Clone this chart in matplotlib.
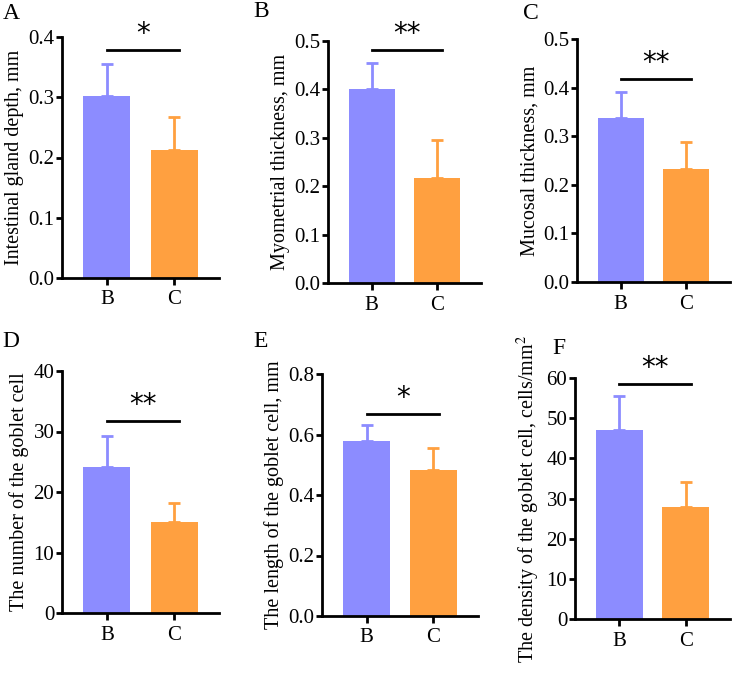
import matplotlib.pyplot as plt

plt.rcParams['font.family'] = ['Liberation Serif', 'DejaVu Serif']
plt.rcParams['mathtext.fontset'] = 'stix'

groups = ['B', 'C']
colors = ['#8c8cff', '#ffa040']

# panel data: means and upper error (SD)
gland_mean = [0.302, 0.212]
gland_err = [0.053, 0.056]
myo_mean = [0.401, 0.217]
myo_err = [0.053, 0.079]
muc_mean = [0.337, 0.233]
muc_err = [0.054, 0.056]
num_mean = [24.1, 15.1]
num_err = [5.1, 3.0]
len_mean = [0.580, 0.481]
len_err = [0.050, 0.075]
dens_mean = [47.1, 28.0]
dens_err = [8.5, 6.0]

panels = [
    ('A', gland_mean, gland_err, 'Intestinal gland depth, mm', 0.4, 0.1, '{:.1f}', 0.378, '*'),
    ('B', myo_mean, myo_err, 'Myometrial thickness, mm', 0.5, 0.1, '{:.1f}', 0.481, '**'),
    ('C', muc_mean, muc_err, 'Mucosal thickness, mm', 0.5, 0.1, '{:.1f}', 0.418, '**'),
    ('D', num_mean, num_err, 'The number of the goblet cell', 40, 10, '{:.0f}', 31.7, '**'),
    ('E', len_mean, len_err, 'The length of the goblet cell, mm', 0.8, 0.2, '{:.1f}', 0.667, '*'),
    ('F', dens_mean, dens_err, 'The density of the goblet cell, cells/mm$^2$', 60, 10, '{:.0f}', 58.4, '**'),
]

# axes boxes in pixels: left, top, right, bottom
boxes = [
    (62, 37, 219, 278), (328, 41, 481, 283), (577, 39, 730, 282),
    (62, 371, 219, 613), (322, 374, 478, 616), (575, 378, 730, 619),
]
# panel letters: left, top in pixels
letter_pos = [(3, 3), (253, 1), (523, 3), (2, 331), (253, 331), (552, 338)]

W, H = 733, 679
fig = plt.figure(figsize=(W / 100, H / 100), dpi=100)

for (letter, mean, err, ylabel, ymax, step, fmt, sig_y, stars), box, lp in zip(panels, boxes, letter_pos):
    l, t, r, b = box
    ax = fig.add_axes([l / W, 1 - b / H, (r - l) / W, (b - t) / H])
    x = range(len(groups))
    ax.bar(x, mean, width=0.7, color=colors, edgecolor='none', zorder=2)
    for xi, m, e, c in zip(x, mean, err, colors):
        ax.errorbar(xi, m, yerr=[[0], [e]], color=c, elinewidth=2, capsize=4.5, capthick=2, zorder=1)
    ax.set_xlim(-0.67, 1.67)
    ax.set_ylim(0, ymax)
    ticks = [i * step for i in range(int(round(ymax / step)) + 1)]
    ax.set_yticks(ticks)
    ax.set_yticklabels([fmt.format(v) for v in ticks])
    ax.set_xticks(list(x))
    ax.set_xticklabels(groups)
    for s in ['top', 'right']:
        ax.spines[s].set_visible(False)
    for s in ['left', 'bottom']:
        ax.spines[s].set_linewidth(2)
    ax.tick_params(width=2, length=4, labelsize=15, pad=1.5)
    ax.tick_params(axis='x', length=5, pad=4)
    ax.set_ylabel(ylabel, fontsize=14.5, labelpad=3)
    ax.plot([0, 1.08], [sig_y, sig_y], color='black', lw=2, clip_on=False)
    ax.text(0.54, sig_y + ymax * 0.008, stars, ha='center', va='bottom',
            fontsize=20, family='DejaVu Sans', clip_on=False)
    fig.text(lp[0] / W, 1 - lp[1] / H, letter, fontsize=17, va='top')

fig.savefig('out.png', dpi=100)
